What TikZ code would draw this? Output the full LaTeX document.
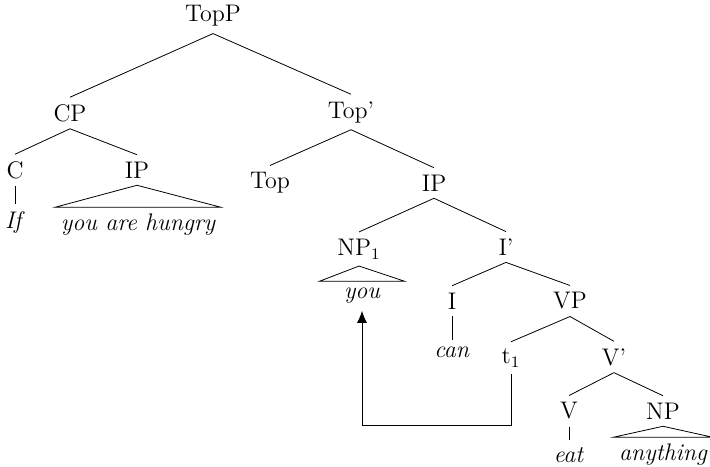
\documentclass[tikz,border=0pt]{standalone}
\usepackage{amsmath, amssymb}
\usepackage{xcolor}
\usetikzlibrary{arrows.meta}

\begin{document}
\begin{tikzpicture}[x=0.5pt, y=-0.5pt, every node/.style={font=\large}]
    \tikzset{roof/.style={minimum width=42pt, inner xsep=2.5pt, font=\large\itshape}}
    \useasboundingbox (0,0) rectangle (710,466);
    % labels of the tree
    \node (topp) at (213,16) {TopP};
    \node (cp) at (70,113) {CP};
    \node (topbar) at (351,112) {Top'};
    \node (c) at (15,170) {C};
    \node (ipa) at (137,170) {IP};
    \node (if) at (15,222) {\textit{If}};
    \node[roof] (hungry) at (138,225) {you are hungry};
    \node (top) at (270,183) {Top};
    \node (ipb) at (434,183) {IP};
    \node (np1) at (359,249) {NP$_1$};
    \node (ibar) at (506,247) {I'};
    \node[roof] (you) at (362,296) {you};
    \node (i) at (452,301) {I};
    \node (vp) at (570,301) {VP};
    \node (can) at (452,352) {\textit{can}};
    \node (t1) at (511,358) {t$_1$};
    \node (vbar) at (614,357) {V'};
    \node (v) at (569,411) {V};
    \node (np) at (663,411) {NP};
    \node (eat) at (569,455) {\textit{eat}};
    \node[roof] (anything) at (663,455) {anything};
    \coordinate (turn) at (0,425);
    % branches
    \foreach \a/\b in {topp/cp, topp/topbar, cp/c, cp/ipa, c/if, topbar/top, topbar/ipb,
        ipb/np1, ipb/ibar, ibar/i, ibar/vp, i/can, vp/t1, vp/vbar, vbar/v, vbar/np, v/eat}
        \draw (\a.south) -- (\b.north);
    \foreach \a/\b in {ipa/hungry, np1/you, np/anything}
        \draw (\a.south) -- (\b.north west) -- (\b.north east) -- cycle;
    % movement
    \draw[-{Latex[length=6pt, width=5pt]}] (t1.south) -- (t1.south |- turn) -| (you.south);
\end{tikzpicture}
\end{document}
